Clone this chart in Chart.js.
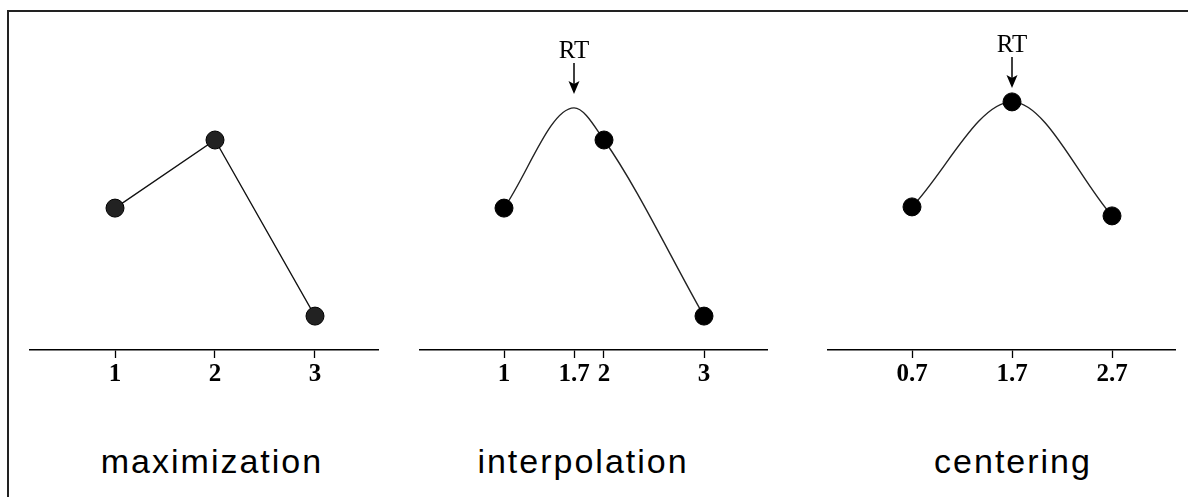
<!DOCTYPE html>
<html>
<head>
<meta charset="utf-8">
<script src="https://cdn.jsdelivr.net/npm/chart.js@4.4.1/dist/chart.umd.min.js"></script>
<style>
  html, body { margin: 0; padding: 0; background: #fff; overflow: hidden; }
  body { width: 1188px; height: 497px; position: relative; }
  .rule-h { position: absolute; left: 7px; top: 10px; width: 1181px; height: 2px; background: #222; }
  .rule-v { position: absolute; left: 7px; top: 10px; width: 2px; height: 487px; background: #222; }
  .panel { position: absolute; top: 0; height: 400px; }
  .caption { position: absolute; top: 444px; width: 320px; text-align: center;
             font-family: "Liberation Sans", Arial, sans-serif; font-size: 34px;
             letter-spacing: 2px; line-height: 34px; color: #000; white-space: nowrap; }
</style>
</head>
<body>
<div class="rule-h"></div>
<div class="rule-v"></div>
<div class="panel" style="left:29px;width:350px"><canvas id="cMax"></canvas></div>
<div class="panel" style="left:419px;width:349px"><canvas id="cInterp"></canvas></div>
<div class="panel" style="left:827px;width:349px"><canvas id="cCenter"></canvas></div>
<div class="caption" style="left:52px">maximization</div>
<div class="caption" style="left:423px">interpolation</div>
<div class="caption" style="left:853px">centering</div>
<script>
// Sampled responses at the scan positions
const sampleX = [1, 2, 3];
const sampleY = [4.73, 7.0, 1.13];

// Interpolated profile through the samples, with its apex at 1.7
const interpCurveX = [1, 1.7, 2, 3];
const interpCurveY = [4.73, 8.07, 7.0, 1.13];

// Re-centred samples around the apex
const centerX = [0.7, 1.7, 2.7];
const centerY = [4.77, 8.27, 4.47];

// Tick values and labels for each panel
const maxTicks = [1, 2, 3];
const maxTickLabels = ['1', '2', '3'];
const interpTicks = [1, 1.7, 2, 3];
const interpTickLabels = ['1', '1.7', '2', '3'];
const centerTicks = [0.7, 1.7, 2.7];
const centerTickLabels = ['0.7', '1.7', '2.7'];

const toPoints = (xs, ys) => xs.map((x, i) => ({ x: x, y: ys[i] }));

// Draws the "RT" label with a downward arrow above the highest point of the profile
const rtMarker = {
  id: 'rtMarker',
  afterDatasetsDraw(chart, args, opts) {
    if (!opts || !opts.show) return;
    const meta = chart.getDatasetMeta(opts.datasetIndex);
    const data = chart.data.datasets[opts.datasetIndex].data;
    let best = 0;
    data.forEach((p, i) => { if (p.y > data[best].y) best = i; });
    const el = meta.data[best];
    const px = el.x;
    const tip = el.y - 14;
    const ctx = chart.ctx;
    ctx.save();
    ctx.strokeStyle = '#000';
    ctx.fillStyle = '#000';
    ctx.lineWidth = 1.5;
    ctx.beginPath();
    ctx.moveTo(px, tip - 31);
    ctx.lineTo(px, tip - 8);
    ctx.stroke();
    ctx.beginPath();
    ctx.moveTo(px, tip);
    ctx.lineTo(px - 5.5, tip - 13);
    ctx.lineTo(px, tip - 10);
    ctx.lineTo(px + 5.5, tip - 13);
    ctx.closePath();
    ctx.fill();
    ctx.font = '25px "Liberation Serif", "Times New Roman", serif';
    ctx.textAlign = 'center';
    ctx.textBaseline = 'alphabetic';
    ctx.fillText('RT', px, tip - 36);
    ctx.restore();
  }
};

function makeOptions(xMin, xMax, tickValues, tickLabels, rt) {
  return {
    responsive: true,
    maintainAspectRatio: false,
    animation: false,
    events: [],
    layout: { autoPadding: false, padding: { top: 50, bottom: 0, left: 0, right: 0 } },
    plugins: {
      legend: { display: false },
      tooltip: { enabled: false },
      rtMarker: rt
    },
    scales: {
      x: {
        type: 'linear',
        min: xMin,
        max: xMax,
        afterBuildTicks(scale) { scale.ticks = tickValues.map(v => ({ value: v })); },
        afterFit(scale) { scale.height = 50; },
        border: { display: true, color: '#000', width: 1.5 },
        grid: { display: true, drawOnChartArea: false, drawTicks: true,
                tickLength: 8, tickColor: '#000', tickWidth: 1.3 },
        ticks: {
          autoSkip: false,
          maxRotation: 0,
          padding: 2,
          color: '#000',
          font: { family: '"Liberation Serif", "Times New Roman", serif', size: 25, weight: 'bold' },
          callback: (v, i) => tickLabels[i]
        }
      },
      y: { type: 'linear', display: false, min: 0, max: 10 }
    }
  };
}

const markerStyle = (fill) => ({
  pointRadius: 9,
  pointBorderWidth: 1,
  pointBackgroundColor: fill,
  pointBorderColor: '#000',
  clip: false
});

// maximization: samples joined by straight segments
new Chart(document.getElementById('cMax'), {
  type: 'line',
  data: {
    datasets: [Object.assign({
      data: toPoints(sampleX, sampleY),
      borderColor: '#111',
      borderWidth: 1.3,
      tension: 0,
      fill: false
    }, markerStyle('#222'))]
  },
  options: makeOptions(0.14, 3.64, maxTicks, maxTickLabels, { show: false }),
  plugins: [rtMarker]
});

// interpolation: smooth profile through the samples
new Chart(document.getElementById('cInterp'), {
  type: 'line',
  data: {
    datasets: [
      Object.assign({
        data: toPoints(sampleX, sampleY),
        showLine: false
      }, markerStyle('#000')),
      {
        data: toPoints(interpCurveX, interpCurveY),
        borderColor: '#222',
        borderWidth: 1.4,
        cubicInterpolationMode: 'monotone',
        pointRadius: 0,
        fill: false,
        clip: false
      }
    ]
  },
  options: makeOptions(0.15, 3.64, interpTicks, interpTickLabels, { show: true, datasetIndex: 1 }),
  plugins: [rtMarker]
});

// centering: samples re-positioned around the apex
new Chart(document.getElementById('cCenter'), {
  type: 'line',
  data: {
    datasets: [
      Object.assign({
        data: toPoints(centerX, centerY),
        showLine: false
      }, markerStyle('#000')),
      {
        data: toPoints(centerX, centerY),
        borderColor: '#222',
        borderWidth: 1.4,
        cubicInterpolationMode: 'monotone',
        pointRadius: 0,
        fill: false,
        clip: false
      }
    ]
  },
  options: makeOptions(-0.15, 3.34, centerTicks, centerTickLabels, { show: true, datasetIndex: 1 }),
  plugins: [rtMarker]
});
</script>
</body>
</html>
